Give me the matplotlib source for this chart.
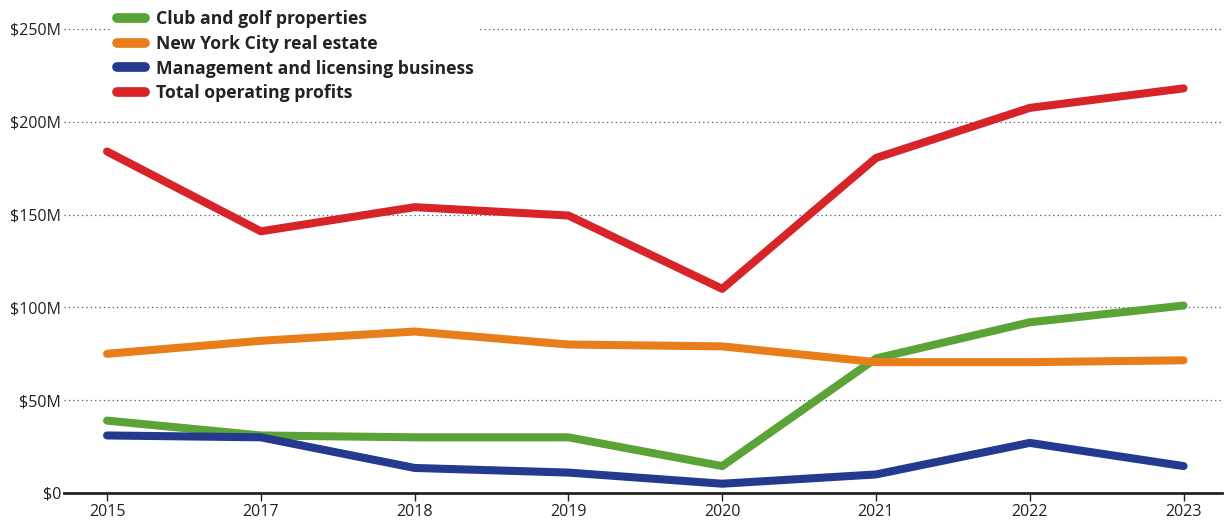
import matplotlib
matplotlib.use('Agg')
import matplotlib.pyplot as plt

plt.rcParams['font.family'] = ['Open Sans', 'DejaVu Sans']
plt.rcParams['font.size'] = 11

years = ['2015', '2017', '2018', '2019', '2020', '2021', '2022', '2023']
club_golf = [39, 31, 30, 30, 14.5, 72.5, 92, 101]
nyc_real_estate = [75, 82, 87, 80, 79, 70.5, 70.5, 71.5]
mgmt_licensing = [31, 30, 13.5, 11, 5, 10, 27, 14.5]
total_profits = [184, 141, 154, 149.5, 110, 180.5, 207.5, 218]

series = [
    ('Club and golf properties', club_golf, '#5ba336'),
    ('New York City real estate', nyc_real_estate, '#e87e1a'),
    ('Management and licensing business', mgmt_licensing, '#233a8f'),
    ('Total operating profits', total_profits, '#d62429'),
]

fig = plt.figure(figsize=(12.27, 5.2), dpi=100)
ax = fig.add_axes([64 / 1227, 1 - 493 / 520, (1222 - 64) / 1227, (493 - 29) / 520])

x = list(range(len(years)))
for label, vals, color in series:
    ax.plot(x, vals, color=color, linewidth=5.8, solid_capstyle='round',
            solid_joinstyle='round', label=label, zorder=3)

ax.set_xlim(-0.28, 7.25)
ax.set_ylim(0, 250)
ax.set_xticks(x)
ax.set_xticklabels(years)
ax.set_yticks([0, 50, 100, 150, 200, 250])
ax.set_yticklabels(['$0', '$50M', '$100M', '$150M', '$200M', '$250M'])

for v in [50, 100, 150, 200, 250]:
    ax.axhline(v, color='#555555', linestyle=(0, (1, 2.5)), linewidth=0.9,
               zorder=1, clip_on=False)

for s in ['top', 'right', 'left']:
    ax.spines[s].set_visible(False)
ax.spines['bottom'].set_color('#222222')
ax.spines['bottom'].set_linewidth(2)
ax.tick_params(axis='y', length=0, pad=2, labelsize=11.5, colors='#222222')
ax.tick_params(axis='x', length=6, width=1, color='#222222', pad=2,
               labelsize=11.5, labelcolor='#222222')

leg = ax.legend(loc='upper left', bbox_to_anchor=(103 / 1227, 1 + 4 / 520),
                bbox_transform=fig.transFigure, frameon=True,
                handlelength=1.6, handletextpad=0.6, labelspacing=0.38,
                borderpad=0.3, prop={'weight': 'bold', 'size': 12.7})
leg.get_frame().set_facecolor('white')
leg.get_frame().set_edgecolor('none')
leg.get_frame().set_alpha(1)
leg.set_zorder(5)
for line in leg.get_lines():
    line.set_linewidth(7)
    line.set_solid_capstyle('round')
for t in leg.get_texts():
    t.set_color('#222222')

plt.savefig('out.png', dpi=100)
plt.close()
